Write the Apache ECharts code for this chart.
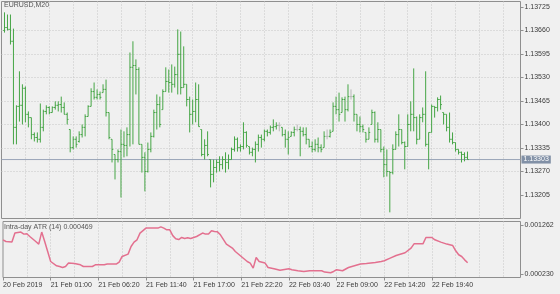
<!DOCTYPE html>
<html><head><meta charset="utf-8">
<script src="https://cdn.jsdelivr.net/npm/echarts@6.0.0/dist/echarts.min.js"></script>
<style>html,body{margin:0;padding:0;background:#f0f0f0;overflow:hidden}#c{width:560px;height:294px}</style>
</head><body><div id="c"></div>
<script>
const symbolName = 'EURUSD,M20';
const indicatorName = 'Intra-day ATR (14) 0.000469';
const timeLabels = ['20 Feb 2019','21 Feb 01:00','21 Feb 06:20','21 Feb 11:40','21 Feb 17:00','21 Feb 22:20','22 Feb 03:40','22 Feb 09:00','22 Feb 14:20','22 Feb 19:40'];
const barsPerLabel = 16;
const firstBar = 1;
const opens = [1.13660,1.13668,1.13663,1.13630,1.13392,1.13450,1.13453,1.13500,1.13428,1.13419,
1.13372,1.13364,1.13359,1.13392,1.13436,1.13447,1.13433,1.13447,1.13453,1.13455,
1.13447,1.13428,1.13386,1.13336,1.13359,1.13353,1.13372,1.13392,1.13422,1.13450,
1.13491,1.13475,1.13483,1.13488,1.13497,1.13433,1.13359,1.13317,1.13303,1.13325,
1.13345,1.13342,1.13372,1.13558,1.13563,1.13552,1.13345,1.13309,1.13270,1.13331,
1.13367,1.13433,1.13455,1.13441,1.13491,1.13519,1.13516,1.13511,1.13538,1.13594,
1.13502,1.13511,1.13469,1.13428,1.13436,1.13469,1.13386,1.13317,1.13342,1.13303,
1.13262,1.13281,1.13295,1.13289,1.13303,1.13295,1.13303,1.13331,1.13359,1.13336,
1.13339,1.13378,1.13339,1.13323,1.13331,1.13345,1.13364,1.13359,1.13381,1.13378,
1.13392,1.13394,1.13397,1.13392,1.13372,1.13359,1.13367,1.13378,1.13386,1.13386,
1.13381,1.13372,1.13359,1.13339,1.13331,1.13345,1.13336,1.13336,1.13367,1.13367,
1.13381,1.13450,1.13441,1.13433,1.13469,1.13441,1.13477,1.13477,1.13428,1.13400,
1.13394,1.13378,1.13359,1.13400,1.13433,1.13359,1.13386,1.13331,1.13289,1.13270,
1.13267,1.13331,1.13372,1.13386,1.13350,1.13339,1.13400,1.13428,1.13419,1.13359,
1.13419,1.13428,1.13345,1.13378,1.13450,1.13447,1.13469,1.13433,1.13428,1.13392,
1.13359,1.13350,1.13331,1.13323,1.13317,1.13309];
const highs = [1.13710,1.13704,1.13704,1.13665,1.13453,1.13547,1.13511,1.13505,1.13436,1.13419,
1.13378,1.13378,1.13458,1.13441,1.13453,1.13450,1.13450,1.13464,1.13464,1.13477,
1.13461,1.13433,1.13386,1.13367,1.13367,1.13381,1.13400,1.13428,1.13453,1.13500,
1.13516,1.13497,1.13491,1.13511,1.13524,1.13433,1.13359,1.13317,1.13331,1.13386,
1.13381,1.13392,1.13599,1.13630,1.13580,1.13558,1.13345,1.13323,1.13350,1.13378,
1.13441,1.13483,1.13477,1.13497,1.13558,1.13552,1.13566,1.13560,1.13663,1.13657,
1.13616,1.13511,1.13477,1.13469,1.13516,1.13511,1.13386,1.13359,1.13381,1.13303,
1.13303,1.13303,1.13312,1.13312,1.13323,1.13317,1.13336,1.13367,1.13364,1.13345,
1.13406,1.13381,1.13339,1.13336,1.13353,1.13372,1.13372,1.13386,1.13386,1.13397,
1.13414,1.13406,1.13406,1.13392,1.13386,1.13381,1.13381,1.13394,1.13400,1.13394,
1.13392,1.13392,1.13359,1.13353,1.13359,1.13364,1.13345,1.13381,1.13386,1.13386,
1.13461,1.13477,1.13488,1.13475,1.13477,1.13511,1.13497,1.13483,1.13428,1.13422,
1.13400,1.13378,1.13392,1.13441,1.13436,1.13406,1.13386,1.13339,1.13331,1.13270,
1.13345,1.13381,1.13428,1.13386,1.13353,1.13428,1.13464,1.13555,1.13422,1.13428,
1.13447,1.13547,1.13378,1.13455,1.13450,1.13475,1.13480,1.13433,1.13428,1.13433,
1.13378,1.13350,1.13331,1.13325,1.13323,1.13325];
const lows = [1.13654,1.13660,1.13621,1.13345,1.13345,1.13408,1.13400,1.13406,1.13392,1.13359,
1.13353,1.13350,1.13350,1.13381,1.13428,1.13428,1.13433,1.13441,1.13436,1.13433,
1.13428,1.13400,1.13323,1.13331,1.13336,1.13350,1.13364,1.13367,1.13422,1.13450,
1.13469,1.13469,1.13469,1.13488,1.13422,1.13359,1.13295,1.13248,1.13295,1.13198,
1.13309,1.13312,1.13339,1.13345,1.13483,1.13345,1.13267,1.13215,1.13267,1.13323,
1.13364,1.13386,1.13392,1.13441,1.13491,1.13488,1.13488,1.13502,1.13483,1.13483,
1.13502,1.13450,1.13378,1.13400,1.13406,1.13394,1.13312,1.13303,1.13312,1.13226,
1.13240,1.13267,1.13270,1.13276,1.13267,1.13276,1.13303,1.13325,1.13325,1.13325,
1.13331,1.13336,1.13317,1.13312,1.13295,1.13325,1.13336,1.13353,1.13367,1.13372,
1.13381,1.13386,1.13381,1.13367,1.13336,1.13317,1.13367,1.13367,1.13381,1.13312,
1.13367,1.13345,1.13336,1.13323,1.13325,1.13323,1.13323,1.13336,1.13359,1.13364,
1.13381,1.13428,1.13408,1.13433,1.13408,1.13436,1.13469,1.13408,1.13381,1.13378,
1.13378,1.13350,1.13359,1.13400,1.13350,1.13350,1.13323,1.13254,1.13256,1.13157,
1.13262,1.13331,1.13339,1.13345,1.13276,1.13339,1.13381,1.13381,1.13345,1.13359,
1.13406,1.13339,1.13276,1.13378,1.13419,1.13436,1.13441,1.13400,1.13381,1.13350,
1.13345,1.13325,1.13317,1.13295,1.13298,1.13303];
const closes = [1.13668,1.13663,1.13630,1.13392,1.13450,1.13453,1.13500,1.13428,1.13419,1.13372,
1.13364,1.13359,1.13392,1.13436,1.13447,1.13433,1.13447,1.13453,1.13455,1.13447,
1.13428,1.13414,1.13336,1.13359,1.13345,1.13372,1.13392,1.13422,1.13450,1.13491,
1.13475,1.13483,1.13475,1.13497,1.13433,1.13364,1.13331,1.13303,1.13325,1.13345,
1.13342,1.13372,1.13558,1.13563,1.13552,1.13345,1.13309,1.13270,1.13331,1.13367,
1.13433,1.13455,1.13400,1.13491,1.13519,1.13516,1.13511,1.13538,1.13594,1.13502,
1.13511,1.13469,1.13428,1.13436,1.13469,1.13394,1.13317,1.13342,1.13317,1.13262,
1.13281,1.13295,1.13289,1.13303,1.13295,1.13303,1.13331,1.13359,1.13336,1.13339,
1.13378,1.13342,1.13323,1.13331,1.13345,1.13364,1.13359,1.13381,1.13378,1.13392,
1.13394,1.13397,1.13397,1.13372,1.13359,1.13364,1.13378,1.13386,1.13386,1.13381,
1.13372,1.13359,1.13339,1.13331,1.13345,1.13336,1.13331,1.13367,1.13367,1.13378,
1.13450,1.13441,1.13428,1.13469,1.13441,1.13477,1.13477,1.13428,1.13400,1.13394,
1.13386,1.13359,1.13378,1.13433,1.13359,1.13386,1.13331,1.13289,1.13270,1.13267,
1.13331,1.13372,1.13386,1.13350,1.13339,1.13400,1.13428,1.13419,1.13359,1.13419,
1.13428,1.13345,1.13378,1.13450,1.13447,1.13469,1.13455,1.13428,1.13392,1.13359,
1.13350,1.13331,1.13323,1.13317,1.13309,1.13303];
const priceTicks = [1.13205,1.13270,1.13335,1.13400,1.13465,1.13530,1.13595,1.13660,1.13725];
const lastPrice = 1.13303;
const atrBars = [0,1,3,4,6,7,8,9,11,12,
13,14,15,16,18,19,20,21,22,24,
26,27,30,31,34,35,38,39,40,42,
43,44,45,46,48,52,53,54,55,56,
57,58,59,60,61,62,63,65,67,68,
69,70,71,72,73,75,77,78,80,82,
83,84,85,86,88,89,91,93,96,97,
99,101,103,107,108,110,111,112,114,116,
118,120,122,125,127,128,130,132,135,137,
138,141,142,144,145,147,149,151,152,153,
154,155,156];
const atrValues = [0.000952,0.000917,0.000904,0.001094,0.001115,0.001072,0.001079,0.001022,0.000917,0.000862,
0.001115,0.000917,0.000706,0.000495,0.000405,0.000390,0.000369,0.000390,0.000462,0.000454,
0.000426,0.000390,0.000390,0.000426,0.000426,0.000441,0.000441,0.000483,0.000601,0.000651,
0.000811,0.000904,0.000952,0.001094,0.001199,0.001199,0.001226,0.001199,0.001163,0.001163,
0.001040,0.000975,0.000958,0.001001,0.000980,0.000994,0.000980,0.001022,0.001094,0.001072,
0.001072,0.001142,0.001127,0.001120,0.001058,0.000862,0.000778,0.000706,0.000601,0.000495,
0.000462,0.000356,0.000580,0.000495,0.000462,0.000369,0.000342,0.000310,0.000342,0.000321,
0.000300,0.000285,0.000300,0.000300,0.000272,0.000257,0.000285,0.000321,0.000300,0.000369,
0.000405,0.000441,0.000454,0.000474,0.000495,0.000510,0.000567,0.000622,0.000679,0.000778,
0.000868,0.000868,0.001001,0.001001,0.000952,0.000904,0.000862,0.000832,0.000721,0.000637,
0.000601,0.000530,0.000469];
const atrTicks = [0.000230, 0.001262];

const FONT = '"Liberation Sans", Arial, sans-serif';
const TXT = '#3a3a3a';
const BORDER = '#8f8f8f';
const GRIDC = '#c6c6c6';
const xMax = 173.75;
const ohlc = opens.map((o, k) => [firstBar + k, o, highs[k], lows[k], closes[k]]);
const atrData = atrBars.map((b, k) => [b, atrValues[k]]);
const labelBars = timeLabels.map((t, k) => k * barsPerLabel);

const chart = echarts.init(document.getElementById('c'), null, {renderer: 'canvas'});
chart.setOption({
  animation: false,
  backgroundColor: '#f0f0f0',
  textStyle: {fontFamily: FONT},
  title: [
    {text: symbolName, left: 4, top: 2, padding: 0, textStyle: {fontSize: 7, fontWeight: 'normal', color: '#555', fontFamily: FONT}},
    {text: indicatorName, left: 4, top: 224, padding: 0, textStyle: {fontSize: 7, fontWeight: 'normal', color: '#555', fontFamily: FONT}}
  ],
  grid: [
    {left: 1.5, top: 1.5, width: 519, height: 217, show: true, borderColor: BORDER, borderWidth: 1, backgroundColor: 'transparent'},
    {left: 1.5, top: 221.5, width: 519, height: 56, show: true, borderColor: BORDER, borderWidth: 1, backgroundColor: 'transparent'}
  ],
  xAxis: [
    {type: 'value', gridIndex: 0, min: 0, max: xMax, interval: 8,
     axisLine: {show: false, onZero: false}, axisTick: {show: false}, axisLabel: {show: false},
     splitLine: {show: true, showMinLine: false, showMaxLine: false, lineStyle: {color: GRIDC, type: [1, 2], width: 1}}},
    {type: 'value', gridIndex: 1, min: 0, max: xMax, position: 'bottom',
     axisLine: {show: false, onZero: false},
     axisTick: {show: true, customValues: labelBars, length: 3, lineStyle: {color: BORDER}},
     axisLabel: {show: true, customValues: labelBars, align: 'left', margin: 4, fontSize: 7, color: TXT, fontFamily: FONT,
       formatter: v => timeLabels[Math.round(v / barsPerLabel)] || ''},
     splitLine: {show: false}},
    {type: 'value', gridIndex: 1, min: 0, max: xMax, interval: 8, position: 'top',
     axisLine: {show: false, onZero: false}, axisTick: {show: false}, axisLabel: {show: false},
     splitLine: {show: true, showMinLine: false, showMaxLine: false, lineStyle: {color: GRIDC, type: [1, 2], width: 1}}}
  ],
  yAxis: [
    {type: 'value', gridIndex: 0, position: 'right', min: 1.13140, max: 1.13740, interval: 0.00065,
     axisLine: {show: false, onZero: false},
     axisTick: {show: true, customValues: priceTicks, length: 3, lineStyle: {color: BORDER}},
     axisLabel: {show: true, customValues: priceTicks, margin: 4, fontSize: 7, color: TXT, fontFamily: FONT, formatter: v => v.toFixed(5)},
     splitLine: {show: true, showMinLine: false, showMaxLine: false, lineStyle: {color: GRIDC, type: [1, 2], width: 1}}},
    {type: 'value', gridIndex: 1, position: 'right', min: 0.000158, max: 0.001338,
     axisLine: {show: false, onZero: false},
     axisTick: {show: true, customValues: atrTicks, length: 3, lineStyle: {color: BORDER}},
     axisLabel: {show: true, customValues: atrTicks, margin: 4, fontSize: 7, color: TXT, fontFamily: FONT, formatter: v => v.toFixed(6)},
     splitLine: {show: false}}
  ],
  series: [
    {type: 'line', xAxisIndex: 0, yAxisIndex: 0, data: [[0, lastPrice], [xMax, lastPrice]],
     symbol: 'none', showSymbol: false, silent: true, z: 1, clip: false,
     lineStyle: {color: '#9aa5b8', width: 1},
     endLabel: {show: true, distance: 1, formatter: () => lastPrice.toFixed(5),
       color: '#fff', backgroundColor: '#8190a6', padding: [1, 2, 0, 2], fontSize: 7, fontFamily: FONT}
    },
    {type: 'custom', xAxisIndex: 0, yAxisIndex: 0, data: ohlc, encode: {x: 0, y: [1, 2, 3, 4]}, z: 2,
     renderItem: (params, api) => {
       const i = api.value(0);
       const pO = api.coord([i, api.value(1)]);
       const pH = api.coord([i, api.value(2)]);
       const pL = api.coord([i, api.value(3)]);
       const pC = api.coord([i, api.value(4)]);
       const x = pH[0];
       const col = api.value(1) === api.value(4) ? '#b8b8b8' : '#45a545';
       const st = {stroke: col, lineWidth: 1, fill: null};
       return {type: 'group', children: [
         {type: 'line', shape: {x1: x, y1: pH[1], x2: x, y2: pL[1]}, style: st},
         {type: 'line', shape: {x1: x - 1.3, y1: pO[1], x2: x, y2: pO[1]}, style: st},
         {type: 'line', shape: {x1: x, y1: pC[1], x2: x + 1.3, y2: pC[1]}, style: st}
       ]};
     }
    },
    {type: 'line', xAxisIndex: 1, yAxisIndex: 1, data: atrData, showSymbol: false, symbol: 'none',
     lineStyle: {color: '#e3708f', width: 1.5}}
  ]
});
</script></body></html>
